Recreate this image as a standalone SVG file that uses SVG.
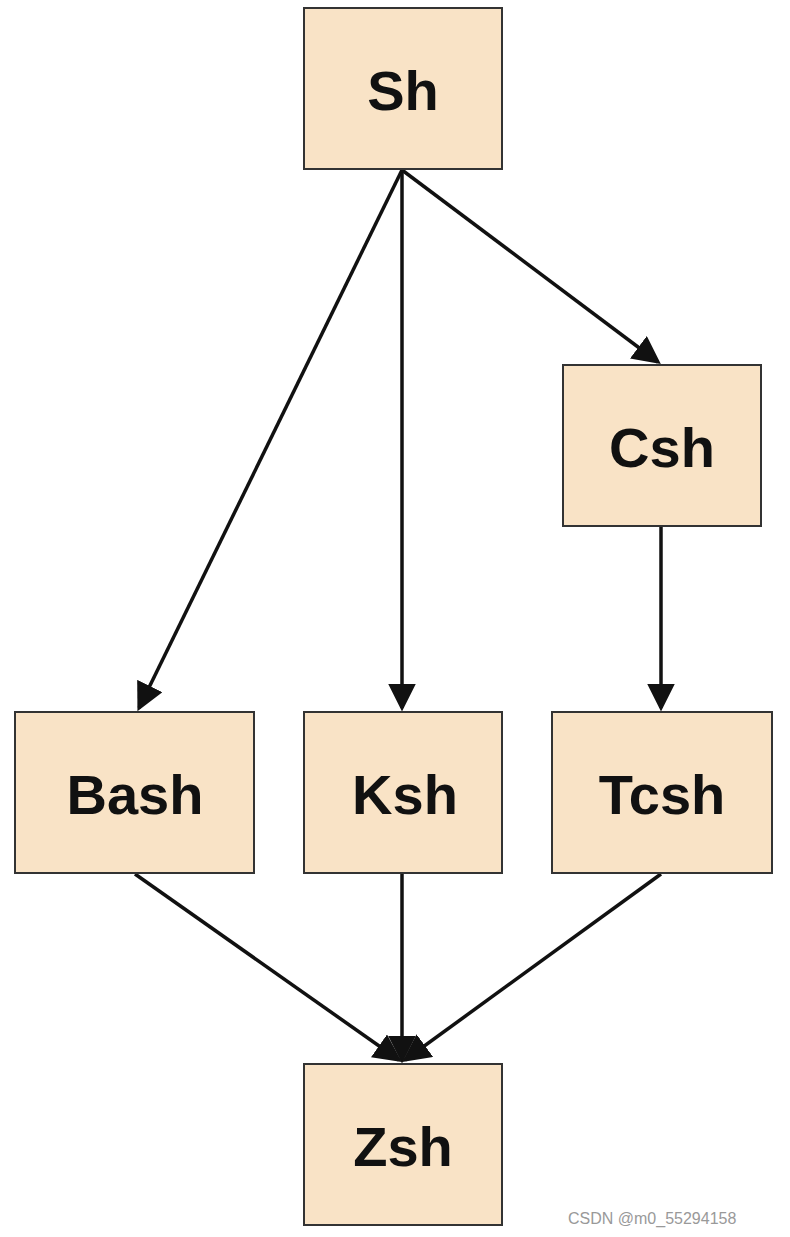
<svg xmlns="http://www.w3.org/2000/svg" width="790" height="1237" viewBox="0 0 790 1237">
<style>
.n rect{fill:#f9e3c6;stroke:#333;stroke-width:2}
.n text{font-family:"Liberation Sans",Arial,sans-serif;font-weight:bold;font-size:56px;fill:#111;text-anchor:middle;dominant-baseline:central}
.c line{stroke:#111;stroke-width:3.5;marker-end:url(#a)}
.w{font-family:"Liberation Sans",Arial,sans-serif;font-size:16px;fill:#999}
</style>
<defs><marker id="a" markerWidth="8" markerHeight="8" refX="7" refY="4" orient="auto" markerUnits="strokeWidth"><path d="M0,0 L8,4 L0,8 Z" fill="#111"/></marker></defs>
<rect width="790" height="1237" fill="#fff"/>
<g class="c">
<line x1="402" y1="170" x2="139" y2="708"/>
<line x1="402" y1="170" x2="402" y2="708"/>
<line x1="402" y1="170" x2="658" y2="362"/>
<line x1="661" y1="526" x2="661" y2="708"/>
<line x1="135" y1="874" x2="399" y2="1060"/>
<line x1="402" y1="874" x2="402" y2="1060"/>
<line x1="661" y1="874" x2="405" y2="1060"/>
</g>
<g id="sh" class="n"><rect x="304" y="8" width="198" height="161"/><text x="403" y="90">Sh</text></g>
<g id="csh" class="n"><rect x="563" y="365" width="198" height="161"/><text x="662" y="447">Csh</text></g>
<g id="bash" class="n"><rect x="15" y="712" width="239" height="161"/><text x="135" y="794">Bash</text></g>
<g id="ksh" class="n"><rect x="304" y="712" width="198" height="161"/><text x="405" y="794">Ksh</text></g>
<g id="tcsh" class="n"><rect x="552" y="712" width="220" height="161"/><text x="662" y="794">Tcsh</text></g>
<g id="zsh" class="n"><rect x="304" y="1064" width="198" height="161"/><text x="403" y="1146">Zsh</text></g>
<text class="w" x="568" y="1224">CSDN @m0_55294158</text>
</svg>
